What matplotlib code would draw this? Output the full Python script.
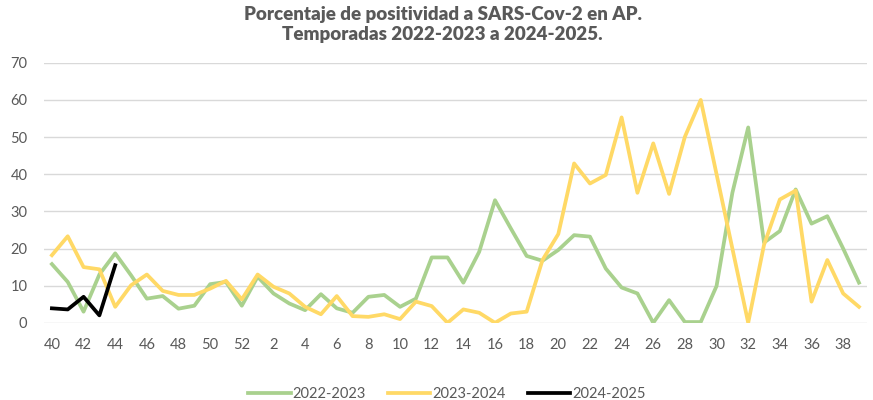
import numpy as np
import matplotlib
matplotlib.use("Agg")
import matplotlib.pyplot as plt

plt.rcParams["font.family"] = ["Lato", "DejaVu Sans"]

# Semanas epidemiologicas (40 a 52, luego 1 a 39)
weeks = list(range(40, 53)) + list(range(1, 40))
tick_labels = [str(w) if i % 2 == 0 else "" for i, w in enumerate(weeks)]

s_2022_2023 = [15.8, 11, 3, 13, 18.7, 12.8, 6.5, 7.2, 3.8, 4.6, 10.4, 11, 4.6,
               12.4, 7.9, 5.2, 3.4, 7.7, 3.9, 2.7, 7, 7.5, 4.3, 6.5, 17.6, 17.6,
               10.8, 19.1, 33, 25.4, 18, 16.7, 19.6, 23.6, 23.2, 14.6, 9.5, 7.9,
               0, 6.1, 0.2, 0.2, 9.9, 35, 52.6, 21.6, 24.7, 35.9, 26.7, 28.7, 20, 10.8]

s_2023_2024 = [18.2, 23.3, 15, 14.4, 4.3, 10.1, 13, 8.6, 7.5, 7.5, 9.2, 11.3, 6.3,
               13, 9.7, 7.9, 4.3, 2.3, 7.2, 1.8, 1.6, 2.3, 1, 5.7, 4.5, 0,
               3.6, 2.7, 0, 2.5, 3, 16.9, 23.9, 42.9, 37.5, 39.8, 55.3, 35, 48.3,
               34.7, 50.1, 60, 40, 20, 0, 21, 33.2, 35.6, 5.7, 16.9, 7.9, 4.3]

s_2024_2025 = [3.9, 3.6, 7, 2, 15.5]

grey = "#595959"

fig = plt.figure(figsize=(8.73, 4.0), dpi=100)
ax = fig.add_axes([0.0504, 0.193, 0.9426, 0.650])

x = np.arange(len(weeks))
ax.plot(x, s_2022_2023, color="#A9D18E", lw=2.7, label="2022-2023", solid_joinstyle="round")
ax.plot(x, s_2023_2024, color="#FFD966", lw=2.7, label="2023-2024", solid_joinstyle="round")
ax.plot(np.arange(len(s_2024_2025)), s_2024_2025, color="black", lw=2.7,
        label="2024-2025", solid_joinstyle="round")

ax.set_xlim(-0.5, len(weeks) - 0.5)
ax.set_ylim(0, 70)
ax.set_yticks(range(0, 71, 10))
ax.set_xticks(x)
ax.set_xticklabels(tick_labels)
ax.tick_params(axis="both", length=0, labelsize=10.5, colors=grey)
ax.tick_params(axis="x", pad=11)
ax.tick_params(axis="y", pad=12)
ax.grid(axis="y", color="#D9D9D9", lw=1)
ax.set_axisbelow(True)
for sp in ax.spines.values():
    sp.set_visible(False)

fig.suptitle("Porcentaje de positividad a SARS-Cov-2 en AP.\nTemporadas 2022-2023 a 2024-2025.",
             x=0.507, y=0.985, fontsize=13.5, fontweight="heavy", color=grey, linespacing=1.2)

leg = fig.legend(loc="lower center", bbox_to_anchor=(0.512, -0.035), ncol=3, frameon=False,
                 fontsize=10.5, handlelength=2.9, handletextpad=0.15, columnspacing=1.5)
for t in leg.get_texts():
    t.set_color(grey)

fig.savefig("out.png", dpi=100)
